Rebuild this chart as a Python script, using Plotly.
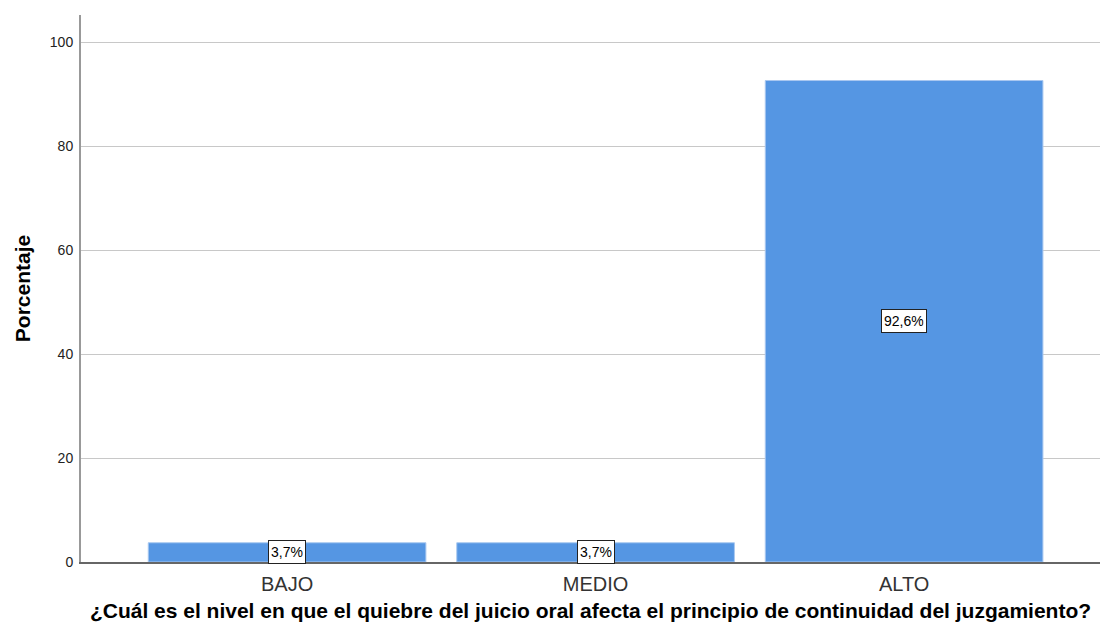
import plotly.graph_objects as go

categories = ["BAJO", "MEDIO", "ALTO"]
values = [3.7, 3.7, 92.6]
labels = ["3,7%", "3,7%", "92,6%"]
y_ticks = [0, 20, 40, 60, 80, 100]

fig = go.Figure()
fig.add_trace(go.Bar(
    x=categories, y=values,
    marker=dict(color="#5596E3", line=dict(color="#A9C8F0", width=1)),
    width=0.9, hoverinfo="skip",
))

for c, v, t in zip(categories, values, labels):
    fig.add_annotation(
        x=c, y=v / 2, text=t, showarrow=False,
        font=dict(family="Liberation Sans, Arial", size=14, color="#000000"),
        bgcolor="#FFFFFF", bordercolor="#222222", borderwidth=1, borderpad=2,
        height=18,
    )

fig.update_layout(
    width=1100, height=637,
    margin=dict(l=81, r=0, t=15, b=75),
    paper_bgcolor="#FFFFFF", plot_bgcolor="#FFFFFF",
    showlegend=False,
    font=dict(family="Liberation Sans, Arial", color="#000000"),
    xaxis=dict(
        range=[-0.668, 2.635],
        showline=True, linecolor="#666666", linewidth=1.5,
        showgrid=False, ticks="outside", ticklen=3, tickcolor="#FFFFFF",
        automargin=False,
        tickfont=dict(size=20, color="#333333"),
        title=dict(
            text="<b>¿Cuál es el nivel en que el quiebre del juicio oral afecta el principio de continuidad del juzgamiento?</b>",
            font=dict(size=21, color="#000000"), standoff=10,
        ),
    ),
    yaxis=dict(
        range=[0, 105.2],
        tickvals=y_ticks, ticktext=[str(v) for v in y_ticks],
        showline=True, linecolor="#999999", linewidth=2,
        showgrid=True, gridcolor="#C8C8C8", gridwidth=1,
        zeroline=False, automargin=False,
        ticks="outside", ticklen=3, tickcolor="#FFFFFF",
        tickfont=dict(size=14, color="#222222"),
        title=dict(text="<b>Porcentaje</b>", font=dict(size=21, color="#000000"), standoff=13),
    ),
)

fig.write_html(
    "out.html",
    config={"responsive": False, "displayModeBar": False},
    post_script="document.body.style.margin='0';document.body.style.overflow='hidden';",
)
